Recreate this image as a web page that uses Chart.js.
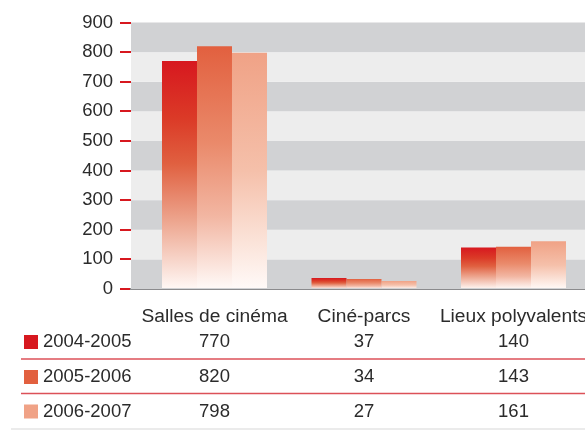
<!DOCTYPE html>
<html>
<head>
<meta charset="utf-8">
<script src="https://cdn.jsdelivr.net/npm/chart.js@4"></script>
<style>
  html, body { margin: 0; padding: 0; overflow: hidden; background: #fff; }
  #wrap { width: 620px; height: 430px; }
</style>
</head>
<body>
<div id="wrap"><canvas id="chart" width="620" height="430"></canvas></div>
<script>
const categories = ['Salles de cinéma', 'Ciné-parcs', 'Lieux polyvalents']
const seasons = ['2004-2005', '2005-2006', '2006-2007']
const values0405 = [770, 37, 140]
const values0506 = [820, 34, 143]
const values0607 = [798, 27, 161]
const yTicks = [0, 100, 200, 300, 400, 500, 600, 700, 800, 900]

const seriesValues = [values0405, values0506, values0607]
const seriesColors = ['#d7181f', '#e2603f', '#f0a286']
// gradient stops per season, top of bar -> baseline
const seriesFades = [
  [[0, '#d7181f'], [0.25, '#db3a27'], [0.45, '#e06040'], [0.7, '#eda58e'], [1, '#fff8f5']],
  [[0, '#e2603f'], [0.4, '#ea8a6b'], [0.7, '#f2b6a2'], [1, '#fffaf8']],
  [[0, '#f0a286'], [0.5, '#f5c0aa'], [1, '#fffaf8']]
]
const FONT = "'Liberation Sans', Arial, sans-serif"
const TEXT = '#2b2b2b'

const barFill = (s) => (ctx) => {
  const chart = ctx.chart
  if (!chart.chartArea || !ctx.parsed) return seriesColors[s]
  const y = chart.scales.y
  const top = y.getPixelForValue(ctx.parsed.y)
  const bottom = y.getPixelForValue(0)
  const g = chart.ctx.createLinearGradient(0, top, 0, bottom)
  seriesFades[s].forEach(([at, c]) => g.addColorStop(at, c))
  return g
}

const bands = {
  id: 'bands',
  beforeDatasetsDraw(chart) {
    const { ctx, chartArea } = chart
    const y = chart.scales.y
    ctx.save()
    for (let i = 0; i < yTicks.length - 1; i++) {
      const top = y.getPixelForValue(yTicks[i + 1])
      const bottom = y.getPixelForValue(yTicks[i])
      ctx.fillStyle = i % 2 === 0 ? '#d1d2d4' : '#ededed'
      ctx.fillRect(chartArea.left, top, chartArea.right - chartArea.left, bottom - top)
    }
    ctx.restore()
  }
}

const dataTable = {
  id: 'dataTable',
  afterDraw(chart) {
    const { ctx } = chart
    const x = chart.scales.x
    const rowY = [342, 377, 411.5]
    ctx.save()
    ctx.font = '18.5px ' + FONT
    ctx.textBaseline = 'middle'
    seasons.forEach((season, r) => {
      ctx.fillStyle = seriesColors[r]
      ctx.fillRect(24, rowY[r] - 7, 14, 14)
      ctx.fillStyle = TEXT
      ctx.textAlign = 'left'
      ctx.fillText(season, 43, rowY[r])
      ctx.textAlign = 'center'
      seriesValues[r].forEach((v, i) => {
        ctx.fillText(String(v), x.getPixelForValue(i), rowY[r])
      })
    })
    ctx.lineWidth = 1.6
    ctx.strokeStyle = '#dc5158'
    ;[359, 393.5].forEach((ly) => {
      ctx.beginPath()
      ctx.moveTo(21, ly)
      ctx.lineTo(chart.width, ly)
      ctx.stroke()
    })
    ctx.strokeStyle = '#e4e4e4'
    ctx.beginPath()
    ctx.moveTo(11, 429)
    ctx.lineTo(chart.width, 429)
    ctx.stroke()
    ctx.restore()
  }
}

const datasets = seasons.map((season, s) => ({
  label: season,
  data: seriesValues[s].map((v, i) => ({ x: i, y: v })),
  backgroundColor: barFill(s),
  borderWidth: 0,
  categoryPercentage: 0.7023,
  barPercentage: 1
}))

new Chart(document.getElementById('chart'), {
  type: 'bar',
  data: { datasets },
  plugins: [bands, dataTable],
  options: {
    responsive: false,
    animation: false,
    layout: { padding: { top: 22.5, right: 0, left: 0, bottom: 0 } },
    plugins: {
      legend: { display: false },
      tooltip: { enabled: false }
    },
    scales: {
      x: {
        type: 'linear',
        offset: false,
        min: -0.5585,
        max: 2.7124,
        afterBuildTicks: (s) => { s.ticks = categories.map((c, i) => ({ value: i })) },
        afterFit: (s) => { s.height = 141 },
        ticks: {
          autoSkip: false,
          maxRotation: 0,
          padding: 16,
          color: TEXT,
          font: { family: FONT, size: 19.2 },
          callback: (v) => categories[v]
        },
        grid: { display: false, drawTicks: false, offset: false },
        border: { display: true, color: '#8b8b8d', width: 2 }
      },
      y: {
        min: 0,
        max: 900,
        afterFit: (s) => { s.width = 131 },
        ticks: {
          stepSize: 100,
          padding: 7,
          color: TEXT,
          font: { family: FONT, size: 18.5 }
        },
        grid: {
          drawOnChartArea: false,
          drawTicks: true,
          tickLength: 11,
          color: '#d7181f',
          lineWidth: 2
        },
        border: { display: false }
      }
    }
  }
})
</script>
</body>
</html>
